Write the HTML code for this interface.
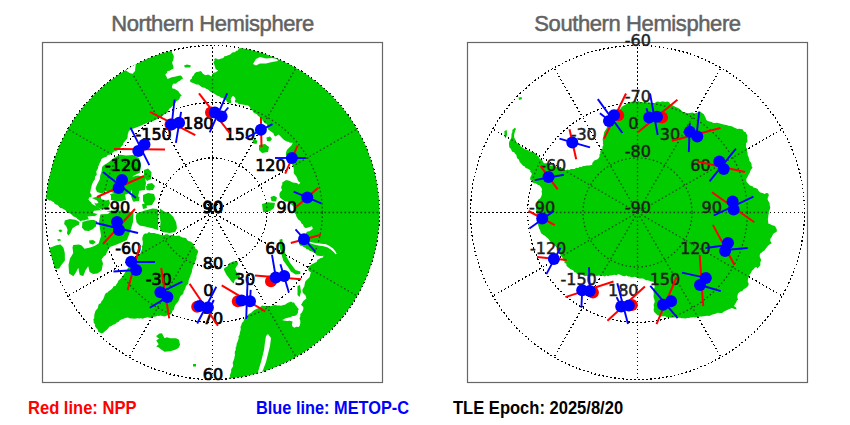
<!DOCTYPE html>
<html><head><meta charset="utf-8"><style>
html,body{margin:0;padding:0;background:#fff;}
body{width:850px;height:425px;overflow:hidden;position:relative;}
svg{position:absolute;left:0;top:0;}
</style></head><body>
<svg width="850" height="425" viewBox="0 0 850 425" xmlns="http://www.w3.org/2000/svg">
<defs>
<clipPath id="cn"><circle cx="212.5" cy="212.5" r="167.01"/></clipPath>
<clipPath id="cs"><circle cx="637.5" cy="212.5" r="167.01"/></clipPath>
<clipPath id="ln"><polygon points="20.0,197.0 20.0,20.0 172.0,20.0 172.5,21.7 171.6,23.3 171.7,25.0 172.4,26.6 172.1,28.3 172.2,30.0 171.9,31.6 171.8,33.3 172.7,34.9 172.9,36.6 171.7,38.3 172.3,39.9 171.9,41.6 173.0,43.2 172.4,44.9 172.0,46.6 172.7,48.2 171.7,49.9 171.8,51.5 172.4,53.2 173.4,55.0 173.8,57.0 173.5,59.1 173.1,60.7 172.2,62.1 172.4,63.8 172.9,65.3 173.5,66.8 173.5,68.5 171.6,69.4 169.8,70.7 167.6,70.9 166.8,72.9 165.3,74.4 166.1,75.9 166.8,77.5 167.6,79.1 169.3,78.2 171.0,77.6 172.8,77.0 174.7,76.8 176.7,76.3 178.6,75.7 180.6,75.6 182.3,77.0 182.9,79.1 181.2,79.6 180.0,80.8 178.4,81.6 177.1,82.6 175.7,83.8 173.7,83.6 172.4,85.0 171.9,86.8 172.4,88.5 174.5,88.8 176.4,89.9 178.2,90.9 179.2,92.7 180.4,94.2 181.8,95.6 180.1,96.8 179.5,98.8 178.2,100.3 176.7,101.1 175.7,102.5 174.7,103.8 173.7,105.2 172.3,106.1 171.2,107.4 169.6,108.6 168.4,110.2 167.6,112.1 166.0,113.3 164.4,114.3 162.9,115.6 161.8,117.0 160.2,117.7 158.3,117.9 157.1,119.1 155.2,120.0 153.3,121.1 151.2,121.5 149.2,122.2 147.2,122.8 145.3,123.8 143.2,124.4 141.4,125.6 139.4,126.2 137.5,127.0 135.5,127.7 133.5,128.5 131.8,129.0 130.4,130.1 128.8,130.9 128.4,132.8 127.7,134.5 127.7,136.6 127.2,138.4 126.0,140.0 124.7,141.5 123.4,143.0 122.9,145.0 121.6,146.2 120.6,147.6 119.6,149.1 118.0,150.0 116.3,151.0 114.3,151.3 112.8,152.6 111.3,153.8 109.7,154.8 107.8,155.1 106.5,156.7 104.7,157.2 103.0,158.0 101.3,159.3 100.6,161.4 99.7,163.0 99.1,164.8 98.2,166.4 98.1,168.1 97.3,169.7 96.3,171.2 96.5,173.0 96.8,174.8 95.3,176.2 94.9,177.8 94.9,179.5 93.6,180.9 92.9,182.6 92.0,184.3 91.6,186.1 91.2,187.7 90.7,189.4 90.5,191.1 90.0,192.7 91.4,194.5 91.6,196.8 89.6,197.6 88.3,199.3 89.5,200.9 91.1,202.2 92.0,204.0 93.5,204.8 95.0,205.5 96.6,206.1 98.0,207.0 99.3,208.0 100.3,209.4 101.5,210.6 99.9,211.9 98.6,213.5 97.1,214.3 95.8,215.4 94.4,216.3 92.6,217.9 90.2,218.4 88.2,219.5 85.9,219.8 84.2,220.6 82.4,220.5 80.3,221.2 79.0,220.1 77.5,219.1 76.3,217.7 74.9,216.9 73.2,216.3 71.8,214.8 70.2,213.6 68.3,212.8 66.5,211.9 65.3,210.0 63.4,209.2 62.1,208.2 60.2,208.0 59.1,206.7 57.7,205.0 56.0,204.6 54.6,203.7 53.9,201.9 52.1,201.6 51.0,200.4 49.2,200.5 47.7,199.3 46.0,199.0 44.4,199.0 42.7,199.2 41.1,198.9 39.6,198.2 37.9,198.5 36.4,198.1 34.8,197.3 33.2,197.5 31.6,197.4 30.0,197.0 28.3,197.0 26.7,197.7 25.0,197.2 23.3,197.1 21.7,197.4"/>
<polygon points="184.0,65.5 187.0,64.5 191.0,65.5 190.0,67.5 185.0,67.5"/>
<polygon points="190.0,81.5 190.2,79.8 191.8,78.7 192.0,77.0 193.7,75.3 194.7,73.2 196.5,72.1 198.6,71.7 200.6,70.9 201.8,72.0 202.7,73.4 204.0,74.4 205.9,75.2 208.1,74.6 210.0,75.6 212.0,76.5 212.0,74.6 213.2,73.0 215.7,72.2 218.2,70.5 215.7,69.3 214.9,66.4 214.1,63.9 213.4,62.3 214.6,60.6 214.1,59.0 215.7,58.2 218.2,59.4 219.8,58.9 221.5,58.6 223.3,58.1 224.4,56.3 226.4,56.1 228.0,55.2 229.8,54.7 231.3,53.6 232.8,52.3 234.9,52.3 236.3,50.8 238.0,50.4 238.7,48.6 240.4,48.3 240.3,46.4 241.5,45.0 242.5,43.5 242.3,41.6 243.0,40.0 242.6,38.3 242.9,36.7 242.3,35.0 242.6,33.3 242.9,31.7 243.0,30.0 242.6,28.3 242.6,26.7 242.6,25.0 242.9,23.3 242.7,21.7 243.0,20.0 420.0,20.0 420.0,420.0 229.0,420.0 229.0,380.0 229.0,380.0 228.7,378.2 230.1,376.8 230.0,375.0 230.6,373.3 231.2,371.6 231.1,369.6 232.0,368.0 233.0,366.6 233.2,364.9 232.6,363.1 233.2,361.5 233.8,360.0 234.3,358.4 234.5,356.7 235.1,355.1 234.7,353.4 234.9,351.5 235.8,349.7 235.6,347.8 236.5,345.9 236.6,343.8 237.5,342.0 238.0,340.2 238.7,338.4 238.5,336.5 239.6,334.8 239.8,332.7 240.4,330.8 240.8,329.0 240.4,327.0 241.3,325.2 241.9,323.1 243.5,321.6 244.1,319.5 245.2,318.0 246.1,316.4 247.7,315.3 248.8,313.9 250.4,313.2 251.8,312.2 253.0,310.9 254.5,310.1 256.3,309.1 258.2,308.2 260.1,307.3 262.0,305.5 263.9,306.1 265.8,305.9 267.8,306.0 269.7,306.3 271.6,306.1 273.4,305.2 275.3,305.1 277.3,305.5 279.3,305.6 281.2,305.8 283.1,305.1 285.0,304.8 286.4,303.8 287.8,302.7 289.5,302.3 291.0,301.5 292.4,302.6 294.2,302.5 295.0,304.6 296.5,306.3 297.6,307.8 298.8,309.3 297.9,310.7 298.0,312.4 297.2,314.2 295.7,315.5 294.2,316.0 292.4,315.9 291.1,317.0 289.0,317.4 287.0,318.1 285.0,318.5 283.6,319.6 281.9,320.1 285.0,320.8 287.3,320.9 289.6,320.8 292.6,321.6 291.9,324.7 292.5,326.6 294.2,327.7 296.4,326.7 298.8,327.0 299.9,325.2 300.3,323.1 300.3,320.7 299.5,318.5 300.4,316.3 300.3,314.0 301.7,312.7 302.6,310.9 303.4,309.0 303.3,307.0 301.0,304.8 302.2,302.9 303.3,300.9 304.9,299.8 306.4,298.6 305.6,295.6 304.0,294.1 302.6,292.5 302.3,290.1 303.3,287.9 304.3,286.5 304.5,284.9 304.9,283.3 305.3,281.6 306.4,280.3 308.0,278.8 309.5,277.2 310.0,275.7 310.3,274.1 311.0,272.6 309.3,271.2 308.0,269.5 308.6,267.9 309.0,266.2 310.6,265.2 312.0,264.0 313.6,263.5 315.1,262.6 316.7,262.0 317.3,260.1 319.0,259.0 320.7,258.0 322.6,257.8 323.7,255.5 322.0,256.2 320.2,256.1 318.5,255.7 316.7,255.5 315.9,253.9 314.3,253.1 312.9,252.0 311.3,251.2 309.6,250.8 308.4,249.5 306.5,249.3 305.5,247.8 303.8,247.3 302.3,245.9 300.2,245.4 299.0,243.7 299.0,241.9 299.7,240.3 301.0,239.0 302.6,237.9 303.4,236.1 305.0,235.0 306.2,232.8 307.6,231.5 309.5,231.2 311.3,230.1 312.8,228.7 312.0,226.2 309.5,227.0 307.5,227.7 305.4,227.9 303.7,226.6 303.0,224.6 301.5,223.5 300.8,221.8 299.7,220.5 298.2,219.4 297.3,218.0 296.4,216.4 295.8,214.6 294.7,213.0 294.0,210.8 293.5,208.5 293.1,206.1 291.5,204.8 290.2,203.2 288.8,202.3 287.4,201.4 285.4,201.5 283.7,200.4 281.7,199.1 279.9,197.6 279.5,195.7 279.4,193.8 280.5,191.7 282.2,190.1 281.2,188.3 281.3,186.3 282.3,184.5 282.2,182.5 283.9,181.4 285.5,180.2 287.7,180.2 289.7,181.0 291.3,181.7 292.8,182.6 294.6,182.7 296.9,182.9 298.7,184.4 300.4,182.7 298.7,181.5 297.7,179.7 297.0,177.8 296.0,176.0 294.6,174.5 293.7,173.0 293.8,171.2 293.8,169.5 293.5,167.8 293.0,166.2 292.1,164.1 291.0,162.0 289.7,160.2 289.0,158.0 287.9,155.9 285.9,154.8 286.2,152.0 286.9,149.9 288.3,148.5 289.8,147.1 291.9,144.9 292.6,142.8 289.8,142.8 288.5,141.7 286.9,141.4 284.1,140.0 282.0,137.9 279.9,135.8 278.5,134.4 277.0,135.4 275.6,136.5 274.2,135.4 273.6,133.6 272.4,132.4 270.9,131.6 269.6,130.4 268.1,129.5 267.4,127.7 267.3,125.7 266.7,123.9 264.9,123.2 263.7,121.8 262.5,120.4 262.0,118.6 260.4,117.5 258.2,116.1 256.8,114.3 254.7,113.3 253.3,112.3 252.7,110.6 251.2,109.8 250.3,108.5 249.8,106.9 248.1,105.6 246.1,105.2 244.1,104.8 242.4,104.5 240.6,104.3 238.8,104.2 237.4,102.6 235.6,102.7 234.8,101.0 235.6,99.2 235.0,97.5 233.0,95.8 231.5,97.5 230.7,99.3 231.1,101.2 231.0,103.0 228.9,102.9 227.0,102.0 226.1,100.3 224.5,99.4 223.0,98.0 221.0,97.7 219.6,96.6 218.0,96.0 216.3,94.9 214.6,94.0 213.0,92.8 211.5,92.2 210.0,91.5 208.8,90.3 207.6,89.3 206.0,88.7 204.7,87.8 202.9,87.4 201.2,86.7 199.8,85.4 198.2,84.6 196.4,84.5 194.8,83.7 193.2,83.0 191.5,82.5 190.0,81.5"/>
<polygon points="143.2,234.9 144.9,233.5 147.2,233.4 148.9,232.0 150.7,232.9 152.6,233.0 154.5,233.0 156.4,233.8 158.3,234.1 160.1,234.7 162.0,234.9 163.9,235.3 165.8,234.3 167.7,234.2 169.6,235.4 171.5,234.9 173.3,235.1 175.1,235.9 177.0,235.8 179.1,235.6 180.8,236.7 182.6,237.5 184.6,237.7 186.2,238.3 187.1,240.1 188.6,241.0 190.3,241.5 192.0,242.4 193.2,243.8 193.8,245.7 195.0,247.0 195.5,248.7 197.1,249.6 198.0,251.0 197.9,252.8 197.1,254.4 196.5,256.0 196.6,258.2 195.9,260.1 195.0,262.0 194.4,263.7 193.7,265.3 193.0,267.0 192.1,270.0 191.9,271.7 191.4,273.4 190.5,274.9 190.3,276.7 189.4,278.3 188.8,279.9 188.5,281.6 188.4,283.4 187.2,284.8 185.9,286.3 185.5,288.1 184.7,289.8 183.7,291.3 183.5,293.3 182.3,294.7 180.6,296.0 179.7,297.8 179.0,299.7 178.3,301.6 177.0,303.1 175.7,304.6 174.8,306.1 174.3,307.8 174.0,309.5 172.4,310.8 171.9,312.9 170.7,314.5 168.9,314.6 167.4,315.3 165.8,316.1 164.2,316.4 162.5,316.0 160.8,315.6 159.2,316.1 157.5,315.8 155.9,316.5 154.2,316.7 152.6,317.0 151.0,317.8 149.3,317.8 147.6,317.2 146.0,317.8 144.4,318.1 142.8,318.7 141.0,318.3 139.4,318.6 137.8,318.3 136.1,318.4 134.5,318.8 132.8,318.6 131.1,318.5 129.5,318.2 127.9,317.6 126.2,317.8 124.6,318.3 123.0,319.0 121.3,319.4 119.7,320.5 118.4,322.1 116.4,322.7 115.1,324.3 112.9,324.7 111.4,326.0 109.3,326.8 108.0,328.6 106.5,330.1 104.9,331.3 103.4,332.7 101.5,333.4 99.9,332.6 98.2,331.8 98.0,330.0 96.9,328.7 95.8,327.4 94.9,326.0 95.0,324.2 93.7,322.8 93.7,321.0 93.3,319.4 94.3,317.9 94.2,316.1 94.4,314.4 94.9,312.8 95.4,311.0 96.6,309.5 97.9,308.1 98.2,306.2 98.7,304.2 100.7,303.2 101.5,301.3 102.7,299.9 103.6,298.2 104.3,296.5 104.8,294.7 106.0,293.0 107.6,292.4 108.8,291.1 110.2,290.2 111.5,289.2 112.7,287.9 113.5,286.3 115.5,285.9 116.4,284.3 117.6,282.7 118.3,280.8 119.7,279.4 121.4,277.7 123.0,276.0 123.8,274.6 124.5,273.2 125.3,271.8 126.4,270.6 127.3,269.3 128.0,267.8 129.3,266.7 130.4,265.3 131.2,263.7 132.9,262.9 133.1,261.1 133.5,259.5 134.5,258.0 136.2,257.3 137.8,256.3 139.3,254.9 140.3,253.3 141.1,251.4 141.8,249.8 142.1,248.2 141.6,246.4 142.7,244.9 142.8,243.2 142.8,241.5 142.3,239.6 142.3,237.8 143.0,236.0"/>
<polygon points="156.2,336.1 159.5,333.6 162.0,333.2 163.2,335.7 164.5,338.2 166.9,337.3 170.2,338.2 176.0,338.2 178.9,339.8 180.1,344.8 178.5,348.0 175.2,349.7 170.2,351.3 164.5,351.7 161.6,349.7 158.7,347.6 156.2,346.4 158.7,344.3 156.2,340.6 159.1,338.6 157.0,337.3"/>
<polygon points="193.0,364.0 196.0,364.0 196.0,366.5 193.0,366.5"/>
<polygon points="160.0,208.5 164.0,211.4 169.6,213.2 173.4,217.0 176.2,222.6 177.0,228.3 175.2,232.0 169.6,233.0 162.0,232.0 160.0,229.0 160.5,222.0 159.5,214.0"/>
<polygon points="136.6,213.2 145.0,210.4 152.6,208.5 157.5,209.0 158.5,215.0 158.0,224.0 158.3,230.2 152.6,228.3 148.9,227.4 145.0,226.4 139.5,225.5 136.6,222.6 135.7,217.0"/>
<polygon points="143.0,195.0 148.0,193.0 154.0,194.0 155.5,199.0 152.0,205.0 146.0,205.7 143.0,201.0"/>
<polygon points="146.0,186.0 151.0,185.0 153.6,188.0 150.0,190.6 146.5,190.0"/>
<polygon points="132.0,188.0 136.0,186.0 139.5,190.0 138.0,197.0 134.0,202.0 132.0,196.0"/>
<polygon points="64.8,220.5 69.7,219.1 75.4,219.8 79.6,221.9 78.9,224.8 75.4,226.2 72.5,228.3 70.4,233.2 68.3,235.4 66.9,233.2 67.6,229.7 66.2,226.2 64.1,224.1"/>
<polygon points="82.4,221.9 87.4,220.5 93.0,219.8 97.2,221.2 95.8,226.2 93.0,229.0 88.8,231.1 84.5,230.4 82.0,227.6"/>
<polygon points="58.4,230.0 61.0,229.5 62.6,231.0 60.0,232.5"/>
<polygon points="57.0,239.5 60.0,238.9 61.2,240.5 58.0,241.0"/>
<polygon points="89.0,240.5 93.0,240.0 95.8,242.0 93.0,244.5 89.5,243.5"/>
<polygon points="50.6,247.4 56.3,245.2 60.5,244.5 63.4,247.4 64.8,253.0 64.9,260.6 61.4,264.9 59.2,268.4 55.0,269.1 45.0,268.0 45.0,250.0"/>
<polygon points="101.5,212.0 112.0,210.5 120.0,210.5 128.0,211.0 133.5,213.0 133.0,222.0 130.0,232.0 127.0,240.0 118.0,244.0 110.0,247.0 107.0,252.0 105.8,255.0 103.7,256.4 101.6,259.2 103.0,263.5 101.6,270.5 97.4,273.4 93.1,274.1 89.6,272.0 88.2,266.3 85.4,270.5 83.2,276.2 79.7,274.8 78.3,267.7 76.2,272.0 73.4,276.2 69.1,273.4 68.5,265.0 70.0,258.6 73.2,253.0 72.5,247.4 73.2,245.0 78.9,244.5 81.7,245.5 84.5,248.8 90.2,247.4 94.4,246.0 98.6,243.5 101.0,236.0 100.0,229.0 99.0,222.0 100.0,216.0"/>
<polygon points="120.5,154.7 116.2,156.6 112.5,158.9 108.7,162.2 104.0,165.0 102.1,167.0 101.6,171.6 100.2,175.4 99.8,179.2 98.4,182.0 96.9,184.8 95.5,188.6 97.0,192.0 102.0,193.5 106.0,191.0 111.0,192.0 118.0,194.5 126.0,194.5 131.0,192.5 133.0,186.0 131.0,181.0 133.0,176.0 140.0,172.5 141.0,165.0 139.0,158.0 133.0,155.0 126.0,155.5"/>
<polygon points="131.0,177.0 138.0,175.5 145.0,177.0 146.0,183.0 145.0,190.0 138.0,191.0 132.0,188.0 130.0,182.0"/>
<polygon points="144.0,170.0 148.0,168.5 151.5,172.0 151.0,179.0 147.0,181.0 144.0,177.0"/>
<polygon points="147.0,184.0 152.0,183.0 155.0,186.0 153.0,190.0 148.0,190.0"/>
<polygon points="110.0,194.0 117.0,192.5 125.0,194.0 126.0,200.0 119.0,201.5 111.0,200.0"/>
<polygon points="131.0,196.0 136.0,195.5 139.5,197.0 139.0,201.0 133.0,201.5"/>
<polygon points="142.0,204.0 146.0,203.5 147.0,208.0 143.0,209.0"/>
<polygon points="229.1,263.2 233.8,261.3 237.6,261.8 238.1,264.1 236.2,266.9 235.2,268.8 236.6,272.1 239.5,274.5 240.0,277.3 237.6,278.2 234.8,280.1 233.8,283.4 231.9,282.0 229.1,278.2 226.3,274.5 223.9,269.8 224.4,267.9 227.2,266.5"/>
<polygon points="279.5,239.8 282.3,238.8 283.2,246.4 286.0,255.8 289.8,262.4 295.5,270.0 300.3,271.5 300.3,273.9 295.6,274.5 290.9,271.5 288.0,267.0 283.2,260.5 281.4,253.9 279.5,246.4"/>
<polygon points="259.0,145.0 265.0,144.0 269.0,147.0 268.0,152.0 262.0,153.0 259.0,150.0"/>
<polygon points="266.5,137.5 270.0,136.5 272.0,139.0 270.0,141.5 267.0,141.0"/>
<polygon points="92.0,198.0 100.0,196.0 108.0,198.0 110.0,203.0 108.0,208.0 102.0,210.0 96.0,206.0"/>
<polygon points="270.5,197.0 274.0,195.7 277.0,197.5 276.0,201.4 271.5,201.0"/>
<polygon points="262.0,204.0 268.0,202.3 275.0,203.0 274.0,208.0 270.0,211.0 263.0,212.2"/>
<polygon points="297.5,286.0 300.0,285.0 301.0,292.0 299.5,297.0 297.5,295.0"/>
<polygon points="252.5,140.5 255.0,139.0 257.4,141.0 256.5,144.0 253.5,143.5"/></clipPath>
<clipPath id="ls"><polygon points="637.0,101.5 638.7,101.1 640.4,102.3 642.1,101.9 643.9,102.5 645.9,102.0 647.7,102.5 649.6,102.6 651.5,102.9 653.2,102.9 654.9,102.9 656.5,101.7 658.1,101.4 660.0,102.3 661.6,101.6 663.5,101.5 665.4,102.0 667.3,101.6 669.2,102.3 670.1,104.0 672.0,104.9 673.9,105.9 675.6,107.1 677.6,107.8 679.7,108.9 681.4,110.6 683.0,112.1 685.2,112.5 687.5,113.3 689.9,112.9 692.3,112.5 694.6,113.4 697.4,112.5 700.0,111.5 702.0,113.0 703.9,114.2 704.8,116.3 705.7,117.9 706.2,119.8 707.7,121.0 709.6,121.5 711.6,121.9 713.3,122.9 715.2,123.0 717.1,122.7 719.0,123.2 720.8,123.8 722.7,124.2 724.6,124.7 726.6,124.9 728.4,125.7 730.4,126.0 732.3,126.6 734.0,127.6 735.8,128.2 737.5,129.0 739.2,128.8 740.9,129.1 742.8,129.5 743.8,131.4 745.6,132.0 746.4,133.8 747.4,135.6 747.2,137.9 747.4,140.3 747.4,142.0 745.9,143.3 746.2,145.0 745.9,147.0 747.1,148.9 746.8,150.9 747.6,152.8 747.6,154.9 748.5,156.8 749.0,158.8 749.5,160.9 750.9,162.6 751.6,164.3 751.6,166.2 752.6,167.8 751.4,169.1 750.5,170.6 749.7,172.9 748.4,174.9 747.6,176.7 746.5,178.4 746.3,180.5 746.8,182.2 748.2,183.4 749.1,184.8 750.5,185.8 752.3,186.1 753.4,187.6 755.6,188.0 757.6,189.0 758.7,191.0 760.4,192.5 762.5,193.1 764.6,193.9 766.3,193.1 768.2,193.2 768.9,195.4 768.1,197.1 767.5,198.9 768.3,201.1 769.6,203.1 769.7,205.3 770.3,207.4 769.8,209.6 768.9,211.6 768.8,213.5 768.4,215.3 768.2,217.2 767.8,219.3 768.2,221.4 768.2,223.5 769.9,224.1 771.5,224.9 773.1,225.6 774.9,226.1 775.9,227.7 776.9,229.7 776.6,231.9 774.7,232.8 773.1,234.1 771.7,236.9 770.3,239.0 770.4,241.3 771.7,243.2 769.9,244.2 768.2,245.4 766.9,247.2 765.4,248.9 764.5,250.4 763.0,251.2 761.8,252.4 760.2,253.4 759.7,255.2 759.8,257.0 760.6,258.5 761.1,260.2 760.3,262.2 760.4,264.4 759.8,266.0 758.5,267.2 757.6,268.6 756.5,267.1 754.7,267.8 753.6,269.3 752.2,270.6 751.3,272.1 750.6,273.6 749.4,274.9 748.6,277.0 748.0,279.1 747.7,281.4 748.7,283.4 748.3,285.8 746.6,287.6 744.9,288.5 743.5,289.6 742.4,291.1 740.0,291.7 738.1,293.2 737.4,296.1 737.4,297.9 738.1,299.6 736.8,300.8 736.2,302.4 735.3,303.8 733.9,305.9 736.0,307.4 736.7,309.5 733.9,308.8 731.8,308.1 730.0,308.7 728.2,309.5 726.1,310.6 724.0,311.6 722.1,312.9 719.8,313.0 717.6,312.8 715.5,313.7 713.4,314.3 711.3,315.1 709.3,315.9 707.1,315.8 705.3,316.0 703.6,316.2 701.8,316.5 700.0,316.5 697.0,317.0 695.4,317.4 693.8,317.3 692.2,317.4 690.6,317.6 689.0,318.0 687.2,318.0 685.4,318.6 683.6,318.3 681.8,318.3 680.0,317.8 678.1,317.7 676.2,317.3 674.3,317.4 672.4,317.4 670.5,317.8 668.8,317.0 666.9,317.4 665.3,316.3 663.5,316.2 661.6,316.6 660.0,315.7 657.6,315.3 655.7,313.6 654.0,311.7 653.6,309.3 654.2,307.6 653.7,305.9 653.7,304.1 654.6,302.5 654.6,300.8 654.2,299.1 653.6,297.5 653.5,295.8 653.8,294.1 653.6,292.4 653.4,290.7 653.8,289.2 654.6,287.6 654.6,286.0 654.0,283.9 653.6,281.8 651.4,281.5 649.3,280.7 647.7,280.2 645.9,280.3 644.5,279.3 643.0,278.6 641.4,278.4 639.7,278.5 638.1,278.3 636.6,277.5 635.0,276.7 633.2,277.1 631.5,277.3 629.8,276.6 628.1,276.5 626.5,275.6 624.6,276.3 622.9,275.9 621.3,275.3 619.7,274.4 618.0,274.3 616.4,275.3 614.6,274.7 612.9,275.0 611.2,275.4 609.6,275.6 608.1,276.3 606.3,275.6 604.8,276.5 602.8,275.7 600.6,275.7 598.5,275.4 596.8,276.0 595.1,275.6 593.4,276.2 591.7,276.2 590.0,276.5 588.3,276.4 586.8,275.7 585.0,276.2 583.4,275.5 582.0,274.3 580.3,274.1 578.6,274.6 577.0,274.0 576.0,272.6 574.2,272.2 573.4,270.5 571.9,269.7 570.3,269.1 569.0,268.0 567.7,266.9 566.4,265.7 566.4,263.7 564.5,263.1 564.4,261.1 563.0,260.0 562.8,258.1 561.6,256.6 560.3,255.2 560.4,253.1 559.8,251.4 558.4,250.0 557.7,248.4 556.5,247.2 555.2,245.9 553.8,244.8 552.7,243.4 551.3,242.3 549.9,241.2 548.9,239.6 547.8,238.2 546.4,237.2 545.2,235.9 543.4,235.0 541.7,233.8 540.5,232.1 540.1,230.2 539.0,228.5 538.6,226.5 538.0,224.6 537.1,222.8 536.7,220.8 537.5,219.0 537.9,217.2 537.6,215.2 536.5,213.5 536.4,211.7 536.2,209.9 536.0,208.0 537.1,206.4 537.2,204.6 537.0,202.8 537.6,201.1 538.4,199.5 540.1,198.5 541.0,197.0 541.7,195.3 542.1,193.6 541.5,191.7 542.0,190.0 541.7,188.3 540.7,186.9 539.7,185.6 537.7,184.8 536.0,183.4 533.8,183.2 532.4,182.3 531.7,180.6 530.3,179.7 530.1,178.0 530.7,176.5 531.5,175.0 531.7,173.3 530.3,172.0 530.3,170.3 528.9,169.2 527.2,168.6 525.6,167.9 524.8,166.4 523.1,165.7 521.9,164.5 520.9,163.2 519.5,161.8 519.0,159.8 517.4,158.5 516.7,156.9 516.4,155.1 515.0,153.8 514.2,152.2 512.3,151.8 511.5,150.3 510.8,148.7 509.4,147.4 509.1,145.6 508.9,143.5 509.3,141.5 510.3,139.7 511.2,137.9 511.5,136.0 511.5,134.0 512.4,132.1 512.3,130.0 514.3,128.3 514.9,129.9 515.0,131.5 514.3,133.7 514.0,136.0 514.4,138.1 515.6,139.9 516.2,142.0 517.3,143.3 518.8,144.1 520.1,145.2 520.9,146.8 522.8,147.4 524.2,149.0 526.2,149.5 528.0,150.3 529.7,151.6 531.9,151.8 533.8,152.6 535.6,153.6 536.7,155.3 538.5,156.2 539.3,158.2 540.9,159.7 542.5,160.4 543.1,162.2 544.4,163.2 546.4,163.3 548.1,163.9 549.6,165.5 551.5,165.6 553.4,165.3 555.1,165.8 556.6,167.2 558.5,166.8 560.3,167.6 562.3,168.1 564.0,169.0 565.6,170.3 567.3,169.6 569.2,170.0 570.8,168.9 572.6,169.1 574.6,169.1 576.1,167.8 578.2,168.0 579.8,166.8 581.6,167.1 583.1,166.0 584.8,166.0 586.8,165.5 588.9,165.6 590.5,165.2 592.2,164.8 592.3,163.0 593.4,161.5 594.7,160.2 596.4,159.8 598.0,159.0 599.6,156.5 599.4,154.7 600.4,153.2 600.1,151.4 601.2,149.9 602.5,148.5 602.5,146.6 603.3,145.0 602.8,143.2 603.0,141.4 602.6,139.6 603.0,137.7 603.5,135.8 603.9,133.8 604.2,131.9 605.4,130.2 606.5,128.6 607.1,126.9 607.0,125.0 608.6,123.7 608.5,121.4 610.0,120.0 610.9,118.2 612.6,117.1 614.3,115.9 615.0,114.0 616.4,112.7 617.9,111.4 619.3,110.0 620.5,108.5 621.7,106.9 623.3,105.7 625.2,104.8 627.0,103.6 629.0,102.9 630.8,102.1 632.6,101.4 634.6,101.5"/>
<polygon points="504.4,131.0 506.8,130.0 507.0,135.0 505.5,138.5 504.5,136.0"/>
<polygon points="514.0,128.0 516.0,128.5 515.5,130.5 514.0,130.0"/>
<polygon points="518.5,97.5 521.5,97.0 522.0,99.0 519.0,100.0"/></clipPath>
</defs>
<g fill="none" stroke="#000" stroke-width="1.25" stroke-dasharray="1.7 2.3" shape-rendering="crispEdges"><circle cx="212.5" cy="212.5" r="167.01"/><circle cx="212.5" cy="212.5" r="109.90"/><circle cx="212.5" cy="212.5" r="54.53"/><line x1="212.5" y1="212.5" x2="212.50" y2="379.51"/><line x1="212.5" y1="212.5" x2="296.01" y2="357.14"/><line x1="212.5" y1="212.5" x2="357.14" y2="296.01"/><line x1="212.5" y1="212.5" x2="379.51" y2="212.50"/><line x1="212.5" y1="212.5" x2="357.14" y2="128.99"/><line x1="212.5" y1="212.5" x2="296.01" y2="67.86"/><line x1="212.5" y1="212.5" x2="212.50" y2="45.49"/><line x1="212.5" y1="212.5" x2="128.99" y2="67.86"/><line x1="212.5" y1="212.5" x2="67.86" y2="128.99"/><line x1="212.5" y1="212.5" x2="45.49" y2="212.50"/><line x1="212.5" y1="212.5" x2="67.86" y2="296.01"/><line x1="212.5" y1="212.5" x2="128.99" y2="357.14"/><circle cx="637.5" cy="212.5" r="167.01"/><circle cx="637.5" cy="212.5" r="109.90"/><circle cx="637.5" cy="212.5" r="54.53"/><line x1="637.5" y1="212.5" x2="637.50" y2="45.49"/><line x1="637.5" y1="212.5" x2="721.01" y2="67.86"/><line x1="637.5" y1="212.5" x2="782.14" y2="128.99"/><line x1="637.5" y1="212.5" x2="804.51" y2="212.50"/><line x1="637.5" y1="212.5" x2="782.14" y2="296.01"/><line x1="637.5" y1="212.5" x2="721.01" y2="357.14"/><line x1="637.5" y1="212.5" x2="637.50" y2="379.51"/><line x1="637.5" y1="212.5" x2="553.99" y2="357.14"/><line x1="637.5" y1="212.5" x2="492.86" y2="296.01"/><line x1="637.5" y1="212.5" x2="470.49" y2="212.50"/><line x1="637.5" y1="212.5" x2="492.86" y2="128.99"/><line x1="637.5" y1="212.5" x2="553.99" y2="67.86"/></g>
<g clip-path="url(#cn)" fill="#00cc00"><polygon points="20.0,197.0 20.0,20.0 172.0,20.0 172.5,21.7 171.6,23.3 171.7,25.0 172.4,26.6 172.1,28.3 172.2,30.0 171.9,31.6 171.8,33.3 172.7,34.9 172.9,36.6 171.7,38.3 172.3,39.9 171.9,41.6 173.0,43.2 172.4,44.9 172.0,46.6 172.7,48.2 171.7,49.9 171.8,51.5 172.4,53.2 173.4,55.0 173.8,57.0 173.5,59.1 173.1,60.7 172.2,62.1 172.4,63.8 172.9,65.3 173.5,66.8 173.5,68.5 171.6,69.4 169.8,70.7 167.6,70.9 166.8,72.9 165.3,74.4 166.1,75.9 166.8,77.5 167.6,79.1 169.3,78.2 171.0,77.6 172.8,77.0 174.7,76.8 176.7,76.3 178.6,75.7 180.6,75.6 182.3,77.0 182.9,79.1 181.2,79.6 180.0,80.8 178.4,81.6 177.1,82.6 175.7,83.8 173.7,83.6 172.4,85.0 171.9,86.8 172.4,88.5 174.5,88.8 176.4,89.9 178.2,90.9 179.2,92.7 180.4,94.2 181.8,95.6 180.1,96.8 179.5,98.8 178.2,100.3 176.7,101.1 175.7,102.5 174.7,103.8 173.7,105.2 172.3,106.1 171.2,107.4 169.6,108.6 168.4,110.2 167.6,112.1 166.0,113.3 164.4,114.3 162.9,115.6 161.8,117.0 160.2,117.7 158.3,117.9 157.1,119.1 155.2,120.0 153.3,121.1 151.2,121.5 149.2,122.2 147.2,122.8 145.3,123.8 143.2,124.4 141.4,125.6 139.4,126.2 137.5,127.0 135.5,127.7 133.5,128.5 131.8,129.0 130.4,130.1 128.8,130.9 128.4,132.8 127.7,134.5 127.7,136.6 127.2,138.4 126.0,140.0 124.7,141.5 123.4,143.0 122.9,145.0 121.6,146.2 120.6,147.6 119.6,149.1 118.0,150.0 116.3,151.0 114.3,151.3 112.8,152.6 111.3,153.8 109.7,154.8 107.8,155.1 106.5,156.7 104.7,157.2 103.0,158.0 101.3,159.3 100.6,161.4 99.7,163.0 99.1,164.8 98.2,166.4 98.1,168.1 97.3,169.7 96.3,171.2 96.5,173.0 96.8,174.8 95.3,176.2 94.9,177.8 94.9,179.5 93.6,180.9 92.9,182.6 92.0,184.3 91.6,186.1 91.2,187.7 90.7,189.4 90.5,191.1 90.0,192.7 91.4,194.5 91.6,196.8 89.6,197.6 88.3,199.3 89.5,200.9 91.1,202.2 92.0,204.0 93.5,204.8 95.0,205.5 96.6,206.1 98.0,207.0 99.3,208.0 100.3,209.4 101.5,210.6 99.9,211.9 98.6,213.5 97.1,214.3 95.8,215.4 94.4,216.3 92.6,217.9 90.2,218.4 88.2,219.5 85.9,219.8 84.2,220.6 82.4,220.5 80.3,221.2 79.0,220.1 77.5,219.1 76.3,217.7 74.9,216.9 73.2,216.3 71.8,214.8 70.2,213.6 68.3,212.8 66.5,211.9 65.3,210.0 63.4,209.2 62.1,208.2 60.2,208.0 59.1,206.7 57.7,205.0 56.0,204.6 54.6,203.7 53.9,201.9 52.1,201.6 51.0,200.4 49.2,200.5 47.7,199.3 46.0,199.0 44.4,199.0 42.7,199.2 41.1,198.9 39.6,198.2 37.9,198.5 36.4,198.1 34.8,197.3 33.2,197.5 31.6,197.4 30.0,197.0 28.3,197.0 26.7,197.7 25.0,197.2 23.3,197.1 21.7,197.4"/>
<polygon points="184.0,65.5 187.0,64.5 191.0,65.5 190.0,67.5 185.0,67.5"/>
<polygon points="190.0,81.5 190.2,79.8 191.8,78.7 192.0,77.0 193.7,75.3 194.7,73.2 196.5,72.1 198.6,71.7 200.6,70.9 201.8,72.0 202.7,73.4 204.0,74.4 205.9,75.2 208.1,74.6 210.0,75.6 212.0,76.5 212.0,74.6 213.2,73.0 215.7,72.2 218.2,70.5 215.7,69.3 214.9,66.4 214.1,63.9 213.4,62.3 214.6,60.6 214.1,59.0 215.7,58.2 218.2,59.4 219.8,58.9 221.5,58.6 223.3,58.1 224.4,56.3 226.4,56.1 228.0,55.2 229.8,54.7 231.3,53.6 232.8,52.3 234.9,52.3 236.3,50.8 238.0,50.4 238.7,48.6 240.4,48.3 240.3,46.4 241.5,45.0 242.5,43.5 242.3,41.6 243.0,40.0 242.6,38.3 242.9,36.7 242.3,35.0 242.6,33.3 242.9,31.7 243.0,30.0 242.6,28.3 242.6,26.7 242.6,25.0 242.9,23.3 242.7,21.7 243.0,20.0 420.0,20.0 420.0,420.0 229.0,420.0 229.0,380.0 229.0,380.0 228.7,378.2 230.1,376.8 230.0,375.0 230.6,373.3 231.2,371.6 231.1,369.6 232.0,368.0 233.0,366.6 233.2,364.9 232.6,363.1 233.2,361.5 233.8,360.0 234.3,358.4 234.5,356.7 235.1,355.1 234.7,353.4 234.9,351.5 235.8,349.7 235.6,347.8 236.5,345.9 236.6,343.8 237.5,342.0 238.0,340.2 238.7,338.4 238.5,336.5 239.6,334.8 239.8,332.7 240.4,330.8 240.8,329.0 240.4,327.0 241.3,325.2 241.9,323.1 243.5,321.6 244.1,319.5 245.2,318.0 246.1,316.4 247.7,315.3 248.8,313.9 250.4,313.2 251.8,312.2 253.0,310.9 254.5,310.1 256.3,309.1 258.2,308.2 260.1,307.3 262.0,305.5 263.9,306.1 265.8,305.9 267.8,306.0 269.7,306.3 271.6,306.1 273.4,305.2 275.3,305.1 277.3,305.5 279.3,305.6 281.2,305.8 283.1,305.1 285.0,304.8 286.4,303.8 287.8,302.7 289.5,302.3 291.0,301.5 292.4,302.6 294.2,302.5 295.0,304.6 296.5,306.3 297.6,307.8 298.8,309.3 297.9,310.7 298.0,312.4 297.2,314.2 295.7,315.5 294.2,316.0 292.4,315.9 291.1,317.0 289.0,317.4 287.0,318.1 285.0,318.5 283.6,319.6 281.9,320.1 285.0,320.8 287.3,320.9 289.6,320.8 292.6,321.6 291.9,324.7 292.5,326.6 294.2,327.7 296.4,326.7 298.8,327.0 299.9,325.2 300.3,323.1 300.3,320.7 299.5,318.5 300.4,316.3 300.3,314.0 301.7,312.7 302.6,310.9 303.4,309.0 303.3,307.0 301.0,304.8 302.2,302.9 303.3,300.9 304.9,299.8 306.4,298.6 305.6,295.6 304.0,294.1 302.6,292.5 302.3,290.1 303.3,287.9 304.3,286.5 304.5,284.9 304.9,283.3 305.3,281.6 306.4,280.3 308.0,278.8 309.5,277.2 310.0,275.7 310.3,274.1 311.0,272.6 309.3,271.2 308.0,269.5 308.6,267.9 309.0,266.2 310.6,265.2 312.0,264.0 313.6,263.5 315.1,262.6 316.7,262.0 317.3,260.1 319.0,259.0 320.7,258.0 322.6,257.8 323.7,255.5 322.0,256.2 320.2,256.1 318.5,255.7 316.7,255.5 315.9,253.9 314.3,253.1 312.9,252.0 311.3,251.2 309.6,250.8 308.4,249.5 306.5,249.3 305.5,247.8 303.8,247.3 302.3,245.9 300.2,245.4 299.0,243.7 299.0,241.9 299.7,240.3 301.0,239.0 302.6,237.9 303.4,236.1 305.0,235.0 306.2,232.8 307.6,231.5 309.5,231.2 311.3,230.1 312.8,228.7 312.0,226.2 309.5,227.0 307.5,227.7 305.4,227.9 303.7,226.6 303.0,224.6 301.5,223.5 300.8,221.8 299.7,220.5 298.2,219.4 297.3,218.0 296.4,216.4 295.8,214.6 294.7,213.0 294.0,210.8 293.5,208.5 293.1,206.1 291.5,204.8 290.2,203.2 288.8,202.3 287.4,201.4 285.4,201.5 283.7,200.4 281.7,199.1 279.9,197.6 279.5,195.7 279.4,193.8 280.5,191.7 282.2,190.1 281.2,188.3 281.3,186.3 282.3,184.5 282.2,182.5 283.9,181.4 285.5,180.2 287.7,180.2 289.7,181.0 291.3,181.7 292.8,182.6 294.6,182.7 296.9,182.9 298.7,184.4 300.4,182.7 298.7,181.5 297.7,179.7 297.0,177.8 296.0,176.0 294.6,174.5 293.7,173.0 293.8,171.2 293.8,169.5 293.5,167.8 293.0,166.2 292.1,164.1 291.0,162.0 289.7,160.2 289.0,158.0 287.9,155.9 285.9,154.8 286.2,152.0 286.9,149.9 288.3,148.5 289.8,147.1 291.9,144.9 292.6,142.8 289.8,142.8 288.5,141.7 286.9,141.4 284.1,140.0 282.0,137.9 279.9,135.8 278.5,134.4 277.0,135.4 275.6,136.5 274.2,135.4 273.6,133.6 272.4,132.4 270.9,131.6 269.6,130.4 268.1,129.5 267.4,127.7 267.3,125.7 266.7,123.9 264.9,123.2 263.7,121.8 262.5,120.4 262.0,118.6 260.4,117.5 258.2,116.1 256.8,114.3 254.7,113.3 253.3,112.3 252.7,110.6 251.2,109.8 250.3,108.5 249.8,106.9 248.1,105.6 246.1,105.2 244.1,104.8 242.4,104.5 240.6,104.3 238.8,104.2 237.4,102.6 235.6,102.7 234.8,101.0 235.6,99.2 235.0,97.5 233.0,95.8 231.5,97.5 230.7,99.3 231.1,101.2 231.0,103.0 228.9,102.9 227.0,102.0 226.1,100.3 224.5,99.4 223.0,98.0 221.0,97.7 219.6,96.6 218.0,96.0 216.3,94.9 214.6,94.0 213.0,92.8 211.5,92.2 210.0,91.5 208.8,90.3 207.6,89.3 206.0,88.7 204.7,87.8 202.9,87.4 201.2,86.7 199.8,85.4 198.2,84.6 196.4,84.5 194.8,83.7 193.2,83.0 191.5,82.5 190.0,81.5"/>
<polygon points="143.2,234.9 144.9,233.5 147.2,233.4 148.9,232.0 150.7,232.9 152.6,233.0 154.5,233.0 156.4,233.8 158.3,234.1 160.1,234.7 162.0,234.9 163.9,235.3 165.8,234.3 167.7,234.2 169.6,235.4 171.5,234.9 173.3,235.1 175.1,235.9 177.0,235.8 179.1,235.6 180.8,236.7 182.6,237.5 184.6,237.7 186.2,238.3 187.1,240.1 188.6,241.0 190.3,241.5 192.0,242.4 193.2,243.8 193.8,245.7 195.0,247.0 195.5,248.7 197.1,249.6 198.0,251.0 197.9,252.8 197.1,254.4 196.5,256.0 196.6,258.2 195.9,260.1 195.0,262.0 194.4,263.7 193.7,265.3 193.0,267.0 192.1,270.0 191.9,271.7 191.4,273.4 190.5,274.9 190.3,276.7 189.4,278.3 188.8,279.9 188.5,281.6 188.4,283.4 187.2,284.8 185.9,286.3 185.5,288.1 184.7,289.8 183.7,291.3 183.5,293.3 182.3,294.7 180.6,296.0 179.7,297.8 179.0,299.7 178.3,301.6 177.0,303.1 175.7,304.6 174.8,306.1 174.3,307.8 174.0,309.5 172.4,310.8 171.9,312.9 170.7,314.5 168.9,314.6 167.4,315.3 165.8,316.1 164.2,316.4 162.5,316.0 160.8,315.6 159.2,316.1 157.5,315.8 155.9,316.5 154.2,316.7 152.6,317.0 151.0,317.8 149.3,317.8 147.6,317.2 146.0,317.8 144.4,318.1 142.8,318.7 141.0,318.3 139.4,318.6 137.8,318.3 136.1,318.4 134.5,318.8 132.8,318.6 131.1,318.5 129.5,318.2 127.9,317.6 126.2,317.8 124.6,318.3 123.0,319.0 121.3,319.4 119.7,320.5 118.4,322.1 116.4,322.7 115.1,324.3 112.9,324.7 111.4,326.0 109.3,326.8 108.0,328.6 106.5,330.1 104.9,331.3 103.4,332.7 101.5,333.4 99.9,332.6 98.2,331.8 98.0,330.0 96.9,328.7 95.8,327.4 94.9,326.0 95.0,324.2 93.7,322.8 93.7,321.0 93.3,319.4 94.3,317.9 94.2,316.1 94.4,314.4 94.9,312.8 95.4,311.0 96.6,309.5 97.9,308.1 98.2,306.2 98.7,304.2 100.7,303.2 101.5,301.3 102.7,299.9 103.6,298.2 104.3,296.5 104.8,294.7 106.0,293.0 107.6,292.4 108.8,291.1 110.2,290.2 111.5,289.2 112.7,287.9 113.5,286.3 115.5,285.9 116.4,284.3 117.6,282.7 118.3,280.8 119.7,279.4 121.4,277.7 123.0,276.0 123.8,274.6 124.5,273.2 125.3,271.8 126.4,270.6 127.3,269.3 128.0,267.8 129.3,266.7 130.4,265.3 131.2,263.7 132.9,262.9 133.1,261.1 133.5,259.5 134.5,258.0 136.2,257.3 137.8,256.3 139.3,254.9 140.3,253.3 141.1,251.4 141.8,249.8 142.1,248.2 141.6,246.4 142.7,244.9 142.8,243.2 142.8,241.5 142.3,239.6 142.3,237.8 143.0,236.0"/>
<polygon points="156.2,336.1 159.5,333.6 162.0,333.2 163.2,335.7 164.5,338.2 166.9,337.3 170.2,338.2 176.0,338.2 178.9,339.8 180.1,344.8 178.5,348.0 175.2,349.7 170.2,351.3 164.5,351.7 161.6,349.7 158.7,347.6 156.2,346.4 158.7,344.3 156.2,340.6 159.1,338.6 157.0,337.3"/>
<polygon points="193.0,364.0 196.0,364.0 196.0,366.5 193.0,366.5"/>
<polygon points="160.0,208.5 164.0,211.4 169.6,213.2 173.4,217.0 176.2,222.6 177.0,228.3 175.2,232.0 169.6,233.0 162.0,232.0 160.0,229.0 160.5,222.0 159.5,214.0"/>
<polygon points="136.6,213.2 145.0,210.4 152.6,208.5 157.5,209.0 158.5,215.0 158.0,224.0 158.3,230.2 152.6,228.3 148.9,227.4 145.0,226.4 139.5,225.5 136.6,222.6 135.7,217.0"/>
<polygon points="143.0,195.0 148.0,193.0 154.0,194.0 155.5,199.0 152.0,205.0 146.0,205.7 143.0,201.0"/>
<polygon points="146.0,186.0 151.0,185.0 153.6,188.0 150.0,190.6 146.5,190.0"/>
<polygon points="132.0,188.0 136.0,186.0 139.5,190.0 138.0,197.0 134.0,202.0 132.0,196.0"/>
<polygon points="64.8,220.5 69.7,219.1 75.4,219.8 79.6,221.9 78.9,224.8 75.4,226.2 72.5,228.3 70.4,233.2 68.3,235.4 66.9,233.2 67.6,229.7 66.2,226.2 64.1,224.1"/>
<polygon points="82.4,221.9 87.4,220.5 93.0,219.8 97.2,221.2 95.8,226.2 93.0,229.0 88.8,231.1 84.5,230.4 82.0,227.6"/>
<polygon points="58.4,230.0 61.0,229.5 62.6,231.0 60.0,232.5"/>
<polygon points="57.0,239.5 60.0,238.9 61.2,240.5 58.0,241.0"/>
<polygon points="89.0,240.5 93.0,240.0 95.8,242.0 93.0,244.5 89.5,243.5"/>
<polygon points="50.6,247.4 56.3,245.2 60.5,244.5 63.4,247.4 64.8,253.0 64.9,260.6 61.4,264.9 59.2,268.4 55.0,269.1 45.0,268.0 45.0,250.0"/>
<polygon points="101.5,212.0 112.0,210.5 120.0,210.5 128.0,211.0 133.5,213.0 133.0,222.0 130.0,232.0 127.0,240.0 118.0,244.0 110.0,247.0 107.0,252.0 105.8,255.0 103.7,256.4 101.6,259.2 103.0,263.5 101.6,270.5 97.4,273.4 93.1,274.1 89.6,272.0 88.2,266.3 85.4,270.5 83.2,276.2 79.7,274.8 78.3,267.7 76.2,272.0 73.4,276.2 69.1,273.4 68.5,265.0 70.0,258.6 73.2,253.0 72.5,247.4 73.2,245.0 78.9,244.5 81.7,245.5 84.5,248.8 90.2,247.4 94.4,246.0 98.6,243.5 101.0,236.0 100.0,229.0 99.0,222.0 100.0,216.0"/>
<polygon points="120.5,154.7 116.2,156.6 112.5,158.9 108.7,162.2 104.0,165.0 102.1,167.0 101.6,171.6 100.2,175.4 99.8,179.2 98.4,182.0 96.9,184.8 95.5,188.6 97.0,192.0 102.0,193.5 106.0,191.0 111.0,192.0 118.0,194.5 126.0,194.5 131.0,192.5 133.0,186.0 131.0,181.0 133.0,176.0 140.0,172.5 141.0,165.0 139.0,158.0 133.0,155.0 126.0,155.5"/>
<polygon points="131.0,177.0 138.0,175.5 145.0,177.0 146.0,183.0 145.0,190.0 138.0,191.0 132.0,188.0 130.0,182.0"/>
<polygon points="144.0,170.0 148.0,168.5 151.5,172.0 151.0,179.0 147.0,181.0 144.0,177.0"/>
<polygon points="147.0,184.0 152.0,183.0 155.0,186.0 153.0,190.0 148.0,190.0"/>
<polygon points="110.0,194.0 117.0,192.5 125.0,194.0 126.0,200.0 119.0,201.5 111.0,200.0"/>
<polygon points="131.0,196.0 136.0,195.5 139.5,197.0 139.0,201.0 133.0,201.5"/>
<polygon points="142.0,204.0 146.0,203.5 147.0,208.0 143.0,209.0"/>
<polygon points="229.1,263.2 233.8,261.3 237.6,261.8 238.1,264.1 236.2,266.9 235.2,268.8 236.6,272.1 239.5,274.5 240.0,277.3 237.6,278.2 234.8,280.1 233.8,283.4 231.9,282.0 229.1,278.2 226.3,274.5 223.9,269.8 224.4,267.9 227.2,266.5"/>
<polygon points="279.5,239.8 282.3,238.8 283.2,246.4 286.0,255.8 289.8,262.4 295.5,270.0 300.3,271.5 300.3,273.9 295.6,274.5 290.9,271.5 288.0,267.0 283.2,260.5 281.4,253.9 279.5,246.4"/>
<polygon points="259.0,145.0 265.0,144.0 269.0,147.0 268.0,152.0 262.0,153.0 259.0,150.0"/>
<polygon points="266.5,137.5 270.0,136.5 272.0,139.0 270.0,141.5 267.0,141.0"/>
<polygon points="92.0,198.0 100.0,196.0 108.0,198.0 110.0,203.0 108.0,208.0 102.0,210.0 96.0,206.0"/>
<polygon points="270.5,197.0 274.0,195.7 277.0,197.5 276.0,201.4 271.5,201.0"/>
<polygon points="262.0,204.0 268.0,202.3 275.0,203.0 274.0,208.0 270.0,211.0 263.0,212.2"/>
<polygon points="297.5,286.0 300.0,285.0 301.0,292.0 299.5,297.0 297.5,295.0"/>
<polygon points="252.5,140.5 255.0,139.0 257.4,141.0 256.5,144.0 253.5,143.5"/></g>
<g clip-path="url(#cs)" fill="#00cc00"><polygon points="637.0,101.5 638.7,101.1 640.4,102.3 642.1,101.9 643.9,102.5 645.9,102.0 647.7,102.5 649.6,102.6 651.5,102.9 653.2,102.9 654.9,102.9 656.5,101.7 658.1,101.4 660.0,102.3 661.6,101.6 663.5,101.5 665.4,102.0 667.3,101.6 669.2,102.3 670.1,104.0 672.0,104.9 673.9,105.9 675.6,107.1 677.6,107.8 679.7,108.9 681.4,110.6 683.0,112.1 685.2,112.5 687.5,113.3 689.9,112.9 692.3,112.5 694.6,113.4 697.4,112.5 700.0,111.5 702.0,113.0 703.9,114.2 704.8,116.3 705.7,117.9 706.2,119.8 707.7,121.0 709.6,121.5 711.6,121.9 713.3,122.9 715.2,123.0 717.1,122.7 719.0,123.2 720.8,123.8 722.7,124.2 724.6,124.7 726.6,124.9 728.4,125.7 730.4,126.0 732.3,126.6 734.0,127.6 735.8,128.2 737.5,129.0 739.2,128.8 740.9,129.1 742.8,129.5 743.8,131.4 745.6,132.0 746.4,133.8 747.4,135.6 747.2,137.9 747.4,140.3 747.4,142.0 745.9,143.3 746.2,145.0 745.9,147.0 747.1,148.9 746.8,150.9 747.6,152.8 747.6,154.9 748.5,156.8 749.0,158.8 749.5,160.9 750.9,162.6 751.6,164.3 751.6,166.2 752.6,167.8 751.4,169.1 750.5,170.6 749.7,172.9 748.4,174.9 747.6,176.7 746.5,178.4 746.3,180.5 746.8,182.2 748.2,183.4 749.1,184.8 750.5,185.8 752.3,186.1 753.4,187.6 755.6,188.0 757.6,189.0 758.7,191.0 760.4,192.5 762.5,193.1 764.6,193.9 766.3,193.1 768.2,193.2 768.9,195.4 768.1,197.1 767.5,198.9 768.3,201.1 769.6,203.1 769.7,205.3 770.3,207.4 769.8,209.6 768.9,211.6 768.8,213.5 768.4,215.3 768.2,217.2 767.8,219.3 768.2,221.4 768.2,223.5 769.9,224.1 771.5,224.9 773.1,225.6 774.9,226.1 775.9,227.7 776.9,229.7 776.6,231.9 774.7,232.8 773.1,234.1 771.7,236.9 770.3,239.0 770.4,241.3 771.7,243.2 769.9,244.2 768.2,245.4 766.9,247.2 765.4,248.9 764.5,250.4 763.0,251.2 761.8,252.4 760.2,253.4 759.7,255.2 759.8,257.0 760.6,258.5 761.1,260.2 760.3,262.2 760.4,264.4 759.8,266.0 758.5,267.2 757.6,268.6 756.5,267.1 754.7,267.8 753.6,269.3 752.2,270.6 751.3,272.1 750.6,273.6 749.4,274.9 748.6,277.0 748.0,279.1 747.7,281.4 748.7,283.4 748.3,285.8 746.6,287.6 744.9,288.5 743.5,289.6 742.4,291.1 740.0,291.7 738.1,293.2 737.4,296.1 737.4,297.9 738.1,299.6 736.8,300.8 736.2,302.4 735.3,303.8 733.9,305.9 736.0,307.4 736.7,309.5 733.9,308.8 731.8,308.1 730.0,308.7 728.2,309.5 726.1,310.6 724.0,311.6 722.1,312.9 719.8,313.0 717.6,312.8 715.5,313.7 713.4,314.3 711.3,315.1 709.3,315.9 707.1,315.8 705.3,316.0 703.6,316.2 701.8,316.5 700.0,316.5 697.0,317.0 695.4,317.4 693.8,317.3 692.2,317.4 690.6,317.6 689.0,318.0 687.2,318.0 685.4,318.6 683.6,318.3 681.8,318.3 680.0,317.8 678.1,317.7 676.2,317.3 674.3,317.4 672.4,317.4 670.5,317.8 668.8,317.0 666.9,317.4 665.3,316.3 663.5,316.2 661.6,316.6 660.0,315.7 657.6,315.3 655.7,313.6 654.0,311.7 653.6,309.3 654.2,307.6 653.7,305.9 653.7,304.1 654.6,302.5 654.6,300.8 654.2,299.1 653.6,297.5 653.5,295.8 653.8,294.1 653.6,292.4 653.4,290.7 653.8,289.2 654.6,287.6 654.6,286.0 654.0,283.9 653.6,281.8 651.4,281.5 649.3,280.7 647.7,280.2 645.9,280.3 644.5,279.3 643.0,278.6 641.4,278.4 639.7,278.5 638.1,278.3 636.6,277.5 635.0,276.7 633.2,277.1 631.5,277.3 629.8,276.6 628.1,276.5 626.5,275.6 624.6,276.3 622.9,275.9 621.3,275.3 619.7,274.4 618.0,274.3 616.4,275.3 614.6,274.7 612.9,275.0 611.2,275.4 609.6,275.6 608.1,276.3 606.3,275.6 604.8,276.5 602.8,275.7 600.6,275.7 598.5,275.4 596.8,276.0 595.1,275.6 593.4,276.2 591.7,276.2 590.0,276.5 588.3,276.4 586.8,275.7 585.0,276.2 583.4,275.5 582.0,274.3 580.3,274.1 578.6,274.6 577.0,274.0 576.0,272.6 574.2,272.2 573.4,270.5 571.9,269.7 570.3,269.1 569.0,268.0 567.7,266.9 566.4,265.7 566.4,263.7 564.5,263.1 564.4,261.1 563.0,260.0 562.8,258.1 561.6,256.6 560.3,255.2 560.4,253.1 559.8,251.4 558.4,250.0 557.7,248.4 556.5,247.2 555.2,245.9 553.8,244.8 552.7,243.4 551.3,242.3 549.9,241.2 548.9,239.6 547.8,238.2 546.4,237.2 545.2,235.9 543.4,235.0 541.7,233.8 540.5,232.1 540.1,230.2 539.0,228.5 538.6,226.5 538.0,224.6 537.1,222.8 536.7,220.8 537.5,219.0 537.9,217.2 537.6,215.2 536.5,213.5 536.4,211.7 536.2,209.9 536.0,208.0 537.1,206.4 537.2,204.6 537.0,202.8 537.6,201.1 538.4,199.5 540.1,198.5 541.0,197.0 541.7,195.3 542.1,193.6 541.5,191.7 542.0,190.0 541.7,188.3 540.7,186.9 539.7,185.6 537.7,184.8 536.0,183.4 533.8,183.2 532.4,182.3 531.7,180.6 530.3,179.7 530.1,178.0 530.7,176.5 531.5,175.0 531.7,173.3 530.3,172.0 530.3,170.3 528.9,169.2 527.2,168.6 525.6,167.9 524.8,166.4 523.1,165.7 521.9,164.5 520.9,163.2 519.5,161.8 519.0,159.8 517.4,158.5 516.7,156.9 516.4,155.1 515.0,153.8 514.2,152.2 512.3,151.8 511.5,150.3 510.8,148.7 509.4,147.4 509.1,145.6 508.9,143.5 509.3,141.5 510.3,139.7 511.2,137.9 511.5,136.0 511.5,134.0 512.4,132.1 512.3,130.0 514.3,128.3 514.9,129.9 515.0,131.5 514.3,133.7 514.0,136.0 514.4,138.1 515.6,139.9 516.2,142.0 517.3,143.3 518.8,144.1 520.1,145.2 520.9,146.8 522.8,147.4 524.2,149.0 526.2,149.5 528.0,150.3 529.7,151.6 531.9,151.8 533.8,152.6 535.6,153.6 536.7,155.3 538.5,156.2 539.3,158.2 540.9,159.7 542.5,160.4 543.1,162.2 544.4,163.2 546.4,163.3 548.1,163.9 549.6,165.5 551.5,165.6 553.4,165.3 555.1,165.8 556.6,167.2 558.5,166.8 560.3,167.6 562.3,168.1 564.0,169.0 565.6,170.3 567.3,169.6 569.2,170.0 570.8,168.9 572.6,169.1 574.6,169.1 576.1,167.8 578.2,168.0 579.8,166.8 581.6,167.1 583.1,166.0 584.8,166.0 586.8,165.5 588.9,165.6 590.5,165.2 592.2,164.8 592.3,163.0 593.4,161.5 594.7,160.2 596.4,159.8 598.0,159.0 599.6,156.5 599.4,154.7 600.4,153.2 600.1,151.4 601.2,149.9 602.5,148.5 602.5,146.6 603.3,145.0 602.8,143.2 603.0,141.4 602.6,139.6 603.0,137.7 603.5,135.8 603.9,133.8 604.2,131.9 605.4,130.2 606.5,128.6 607.1,126.9 607.0,125.0 608.6,123.7 608.5,121.4 610.0,120.0 610.9,118.2 612.6,117.1 614.3,115.9 615.0,114.0 616.4,112.7 617.9,111.4 619.3,110.0 620.5,108.5 621.7,106.9 623.3,105.7 625.2,104.8 627.0,103.6 629.0,102.9 630.8,102.1 632.6,101.4 634.6,101.5"/>
<polygon points="504.4,131.0 506.8,130.0 507.0,135.0 505.5,138.5 504.5,136.0"/>
<polygon points="514.0,128.0 516.0,128.5 515.5,130.5 514.0,130.0"/>
<polygon points="518.5,97.5 521.5,97.0 522.0,99.0 519.0,100.0"/></g>
<g clip-path="url(#cn)"><g clip-path="url(#ln)" fill="none" stroke="#184a18" stroke-width="1.3" stroke-dasharray="1.6 2.4"><circle cx="212.5" cy="212.5" r="167.01"/><circle cx="212.5" cy="212.5" r="109.90"/><circle cx="212.5" cy="212.5" r="54.53"/><line x1="212.5" y1="212.5" x2="212.50" y2="379.51"/><line x1="212.5" y1="212.5" x2="296.01" y2="357.14"/><line x1="212.5" y1="212.5" x2="357.14" y2="296.01"/><line x1="212.5" y1="212.5" x2="379.51" y2="212.50"/><line x1="212.5" y1="212.5" x2="357.14" y2="128.99"/><line x1="212.5" y1="212.5" x2="296.01" y2="67.86"/><line x1="212.5" y1="212.5" x2="212.50" y2="45.49"/><line x1="212.5" y1="212.5" x2="128.99" y2="67.86"/><line x1="212.5" y1="212.5" x2="67.86" y2="128.99"/><line x1="212.5" y1="212.5" x2="45.49" y2="212.50"/><line x1="212.5" y1="212.5" x2="67.86" y2="296.01"/><line x1="212.5" y1="212.5" x2="128.99" y2="357.14"/></g></g>
<g clip-path="url(#cs)"><g clip-path="url(#ls)" fill="none" stroke="#184a18" stroke-width="1.3" stroke-dasharray="1.6 2.4"><circle cx="637.5" cy="212.5" r="167.01"/><circle cx="637.5" cy="212.5" r="109.90"/><circle cx="637.5" cy="212.5" r="54.53"/><line x1="637.5" y1="212.5" x2="637.50" y2="45.49"/><line x1="637.5" y1="212.5" x2="721.01" y2="67.86"/><line x1="637.5" y1="212.5" x2="782.14" y2="128.99"/><line x1="637.5" y1="212.5" x2="804.51" y2="212.50"/><line x1="637.5" y1="212.5" x2="782.14" y2="296.01"/><line x1="637.5" y1="212.5" x2="721.01" y2="357.14"/><line x1="637.5" y1="212.5" x2="637.50" y2="379.51"/><line x1="637.5" y1="212.5" x2="553.99" y2="357.14"/><line x1="637.5" y1="212.5" x2="492.86" y2="296.01"/><line x1="637.5" y1="212.5" x2="470.49" y2="212.50"/><line x1="637.5" y1="212.5" x2="492.86" y2="128.99"/><line x1="637.5" y1="212.5" x2="553.99" y2="67.86"/></g></g>
<g clip-path="url(#cn)" fill="#fff"><polygon points="121.0,66.0 125.3,70.0 128.8,72.5 132.4,74.0 135.0,71.0 136.0,62.0 121.0,62.0"/>
<polygon points="309.6,242.0 315.5,243.1 321.4,243.7 326.1,244.3 329.6,246.1 333.1,248.4 335.5,251.4 336.7,253.7 335.5,254.3 333.7,252.0 330.8,249.6 327.3,247.3 322.6,246.1 317.9,245.5 313.2,244.3 309.6,243.1"/>
<polygon points="268.0,334.0 271.0,338.0 270.0,346.0 268.0,354.0 266.0,362.0 263.0,370.0 260.0,376.0 258.0,372.0 261.0,362.0 264.0,350.0 265.0,342.0 266.0,336.0"/>
<polygon points="253.0,64.0 256.0,59.0 260.0,57.0 266.0,58.5 272.0,58.0 277.0,59.0 278.0,61.0 272.0,62.0 266.0,63.5 260.0,63.5 256.0,65.5"/>
<polygon points="94.0,210.8 100.0,210.3 106.0,211.0 110.0,212.0 108.0,214.0 102.0,214.2 96.0,213.8 93.0,212.8"/>
<polygon points="89.0,197.5 93.0,198.5 97.0,200.5 98.5,203.0 96.0,203.5 92.0,201.5 89.0,200.0"/>
<polygon points="101.0,194.5 106.0,194.0 111.0,195.0 111.0,199.0 106.0,200.5 101.0,199.0"/>
<polygon points="87.5,216.5 93.0,216.0 97.5,217.5 95.0,219.5 89.0,219.5"/></g>
<g clip-path="url(#cs)" fill="#fff"></g>
<rect x="42.5" y="42.5" width="340" height="340" fill="none" stroke="#666" stroke-width="1.2"/>
<rect x="467.5" y="42.5" width="340" height="340" fill="none" stroke="#666" stroke-width="1.2"/>
<g font-family="DejaVu Sans, Liberation Sans, sans-serif" font-size="16" fill="#000" stroke="#000" stroke-width="0.7"><text x="223.2" y="212.6" text-anchor="end" stroke-width="1.3">90</text><text x="223.2" y="268.7" text-anchor="end">80</text><text x="223.2" y="323.8" text-anchor="end">70</text><text x="223.2" y="379.7" text-anchor="end">60</text><text x="171.8" y="140.3" text-anchor="end">-150</text><text x="141.3" y="170.8" text-anchor="end">-120</text><text x="130.1" y="212.5" text-anchor="end">-90</text><text x="141.3" y="254.2" text-anchor="end">-60</text><text x="171.8" y="284.7" text-anchor="end">-30</text><text x="213.5" y="295.9" text-anchor="end">0</text><text x="255.2" y="284.7" text-anchor="end">30</text><text x="285.7" y="254.2" text-anchor="end">60</text><text x="296.9" y="212.5" text-anchor="end">90</text><text x="285.7" y="170.8" text-anchor="end">120</text><text x="255.2" y="140.3" text-anchor="end">150</text><text x="213.5" y="129.1" text-anchor="end">180</text></g><g font-family="DejaVu Sans, Liberation Sans, sans-serif" font-size="16" fill="#1e1e1e" stroke="#1e1e1e" stroke-width="0.5"><text x="650.9" y="213.3" text-anchor="end">-90</text><text x="650.9" y="156.8" text-anchor="end">-80</text><text x="650.9" y="101.5" text-anchor="end">-70</text><text x="650.9" y="45.6" text-anchor="end">-60</text><text x="596.8" y="284.7" text-anchor="end">-150</text><text x="566.3" y="254.2" text-anchor="end">-120</text><text x="555.1" y="212.5" text-anchor="end">-90</text><text x="566.3" y="170.8" text-anchor="end">-60</text><text x="596.8" y="140.3" text-anchor="end">-30</text><text x="638.5" y="129.1" text-anchor="end">0</text><text x="680.2" y="140.3" text-anchor="end">30</text><text x="710.7" y="170.8" text-anchor="end">60</text><text x="721.9" y="212.5" text-anchor="end">90</text><text x="710.7" y="254.2" text-anchor="end">120</text><text x="680.2" y="284.7" text-anchor="end">150</text><text x="638.5" y="295.9" text-anchor="end">180</text></g>
<g><line x1="150" y1="111.8" x2="195.3" y2="135.2" stroke="#ff0000" stroke-width="2"/><line x1="199" y1="93.4" x2="230" y2="133.5" stroke="#ff0000" stroke-width="2"/><line x1="260.9" y1="117" x2="261.5" y2="147.2" stroke="#ff0000" stroke-width="2"/><line x1="297.6" y1="145.7" x2="285.2" y2="173.6" stroke="#ff0000" stroke-width="2"/><line x1="318.3" y1="187.7" x2="296.2" y2="207.1" stroke="#ff0000" stroke-width="2"/><line x1="290.8" y1="243" x2="320.9" y2="234.7" stroke="#ff0000" stroke-width="2"/><line x1="255" y1="275.6" x2="301.1" y2="279.3" stroke="#ff0000" stroke-width="2"/><line x1="221.7" y1="285.3" x2="265.3" y2="311.3" stroke="#ff0000" stroke-width="2"/><line x1="189.6" y1="283.8" x2="217.9" y2="325.8" stroke="#ff0000" stroke-width="2"/><line x1="161.2" y1="268" x2="169.2" y2="318.3" stroke="#ff0000" stroke-width="2"/><line x1="140" y1="245" x2="127.7" y2="290" stroke="#ff0000" stroke-width="2"/><line x1="135" y1="209" x2="103" y2="244" stroke="#ff0000" stroke-width="2"/><line x1="97" y1="197" x2="144" y2="176" stroke="#ff0000" stroke-width="2"/><line x1="114" y1="149" x2="165" y2="149.6" stroke="#ff0000" stroke-width="2"/><line x1="626" y1="93.5" x2="604.1" y2="138.6" stroke="#ff0000" stroke-width="2"/><line x1="677.4" y1="99.8" x2="638" y2="132.2" stroke="#ff0000" stroke-width="2"/><line x1="671.9" y1="140.8" x2="720.5" y2="128" stroke="#ff0000" stroke-width="2"/><line x1="697.3" y1="161.5" x2="745" y2="171.9" stroke="#ff0000" stroke-width="2"/><line x1="712" y1="192.2" x2="754.3" y2="222.3" stroke="#ff0000" stroke-width="2"/><line x1="712.9" y1="224.9" x2="734.5" y2="265" stroke="#ff0000" stroke-width="2"/><line x1="699.7" y1="255" x2="703.2" y2="306.1" stroke="#ff0000" stroke-width="2"/><line x1="676.7" y1="277" x2="656.5" y2="324.1" stroke="#ff0000" stroke-width="2"/><line x1="644.9" y1="286.4" x2="607.4" y2="320.8" stroke="#ff0000" stroke-width="2"/><line x1="565.4" y1="297.1" x2="613.5" y2="281.5" stroke="#ff0000" stroke-width="2"/><line x1="537" y1="257.1" x2="566.7" y2="260" stroke="#ff0000" stroke-width="2"/><line x1="528.5" y1="211" x2="554.8" y2="225.1" stroke="#ff0000" stroke-width="2"/><line x1="540.5" y1="165.9" x2="557.7" y2="189.3" stroke="#ff0000" stroke-width="2"/><line x1="569.5" y1="129.2" x2="576.2" y2="159.2" stroke="#ff0000" stroke-width="2"/><line x1="174.6" y1="99.5" x2="171.5" y2="126" stroke="#0000ff" stroke-width="1.9"/><line x1="181.1" y1="111.8" x2="175.9" y2="142.9" stroke="#0000ff" stroke-width="1.9"/><circle cx="170.5" cy="124.5" r="6.0" fill="#ff0000"/><circle cx="171.4" cy="124.5" r="6.0" fill="#0000ff"/><circle cx="179.1" cy="122.8" r="6.0" fill="#0000ff"/><line x1="227.2" y1="93.4" x2="209.7" y2="132.4" stroke="#0000ff" stroke-width="1.9"/><line x1="228.3" y1="107.5" x2="221" y2="116" stroke="#0000ff" stroke-width="1.9"/><circle cx="211" cy="112.5" r="6.0" fill="#ff0000"/><circle cx="214.8" cy="112.6" r="6.0" fill="#0000ff"/><circle cx="221.6" cy="116.6" r="6.0" fill="#0000ff"/><line x1="245.6" y1="138.2" x2="272.5" y2="124.1" stroke="#0000ff" stroke-width="1.9"/><circle cx="260.9" cy="129.8" r="6.0" fill="#0000ff"/><line x1="275" y1="158" x2="305.9" y2="158" stroke="#0000ff" stroke-width="1.9"/><circle cx="291.8" cy="158" r="6.0" fill="#0000ff"/><line x1="293.6" y1="191.6" x2="321.3" y2="203.3" stroke="#0000ff" stroke-width="1.9"/><circle cx="307.3" cy="197.4" r="6.0" fill="#0000ff"/><line x1="295.5" y1="229.4" x2="315.3" y2="251.6" stroke="#0000ff" stroke-width="1.9"/><circle cx="304" cy="239.2" r="6.0" fill="#0000ff"/><line x1="272" y1="254.8" x2="275.7" y2="276.5" stroke="#0000ff" stroke-width="1.9"/><line x1="280.4" y1="264.3" x2="288.9" y2="292.5" stroke="#0000ff" stroke-width="1.9"/><circle cx="271" cy="281.2" r="6.0" fill="#ff0000"/><circle cx="275.7" cy="277.4" r="6.0" fill="#0000ff"/><circle cx="284.2" cy="276.1" r="6.0" fill="#0000ff"/><line x1="247.7" y1="276.9" x2="246.2" y2="318.9" stroke="#0000ff" stroke-width="1.9"/><line x1="250.7" y1="289.9" x2="250" y2="301" stroke="#0000ff" stroke-width="1.9"/><circle cx="237.8" cy="301.3" r="6.0" fill="#ff0000"/><circle cx="241.6" cy="300.6" r="6.0" fill="#0000ff"/><circle cx="250" cy="301.3" r="6.0" fill="#0000ff"/><line x1="216.3" y1="286.8" x2="197.2" y2="323.5" stroke="#0000ff" stroke-width="1.9"/><line x1="213.8" y1="300" x2="211" y2="306" stroke="#0000ff" stroke-width="1.9"/><circle cx="197.2" cy="306.7" r="6.0" fill="#ff0000"/><circle cx="199.5" cy="305.9" r="6.0" fill="#0000ff"/><circle cx="207.9" cy="307.5" r="6.0" fill="#0000ff"/><line x1="182.4" y1="281.7" x2="160.4" y2="292.3" stroke="#0000ff" stroke-width="1.9"/><line x1="149.8" y1="307.7" x2="167.4" y2="297.1" stroke="#0000ff" stroke-width="1.9"/><circle cx="160.4" cy="292.3" r="6.0" fill="#0000ff"/><circle cx="167.4" cy="297.1" r="6.0" fill="#0000ff"/><line x1="131" y1="262" x2="155" y2="262" stroke="#0000ff" stroke-width="1.9"/><line x1="113.5" y1="271.5" x2="136" y2="270" stroke="#0000ff" stroke-width="1.9"/><circle cx="131.2" cy="261.8" r="6.0" fill="#0000ff"/><circle cx="136.1" cy="270.1" r="6.0" fill="#0000ff"/><line x1="96" y1="223" x2="138" y2="233" stroke="#0000ff" stroke-width="1.9"/><circle cx="117" cy="222" r="6.0" fill="#0000ff"/><circle cx="119" cy="230" r="6.0" fill="#0000ff"/><line x1="103" y1="172" x2="136" y2="198" stroke="#0000ff" stroke-width="1.9"/><circle cx="122" cy="180" r="6.0" fill="#0000ff"/><circle cx="118.6" cy="188" r="6.0" fill="#0000ff"/><line x1="130.5" y1="127.6" x2="149.3" y2="165.2" stroke="#0000ff" stroke-width="1.9"/><circle cx="144.5" cy="144.4" r="6.0" fill="#0000ff"/><circle cx="138.3" cy="150.9" r="6.0" fill="#0000ff"/><line x1="597.8" y1="99.1" x2="622.4" y2="133" stroke="#0000ff" stroke-width="1.9"/><line x1="599.9" y1="113.2" x2="606" y2="118" stroke="#0000ff" stroke-width="1.9"/><circle cx="618.2" cy="115.3" r="6.0" fill="#ff0000"/><circle cx="609" cy="121" r="6.0" fill="#0000ff"/><circle cx="614" cy="115.3" r="6.0" fill="#0000ff"/><line x1="650" y1="93.5" x2="657.7" y2="135" stroke="#0000ff" stroke-width="1.9"/><line x1="646.4" y1="108.3" x2="649.2" y2="117" stroke="#0000ff" stroke-width="1.9"/><circle cx="662" cy="117.4" r="6.0" fill="#ff0000"/><circle cx="649.2" cy="117.4" r="6.0" fill="#0000ff"/><circle cx="657" cy="116.7" r="6.0" fill="#0000ff"/><line x1="699.2" y1="111.6" x2="696.4" y2="136" stroke="#0000ff" stroke-width="1.9"/><line x1="689.8" y1="122.9" x2="688.8" y2="152.1" stroke="#0000ff" stroke-width="1.9"/><circle cx="689.8" cy="131.7" r="6.0" fill="#0000ff"/><circle cx="697.3" cy="136.6" r="6.0" fill="#0000ff"/><line x1="735.9" y1="148.7" x2="709.5" y2="181.3" stroke="#0000ff" stroke-width="1.9"/><circle cx="719.3" cy="161.5" r="6.0" fill="#0000ff"/><circle cx="723.7" cy="169" r="6.0" fill="#0000ff"/><line x1="753.4" y1="196.7" x2="713.8" y2="215.5" stroke="#0000ff" stroke-width="1.9"/><circle cx="732.6" cy="201.6" r="6.0" fill="#0000ff"/><circle cx="733.6" cy="209.5" r="6.0" fill="#0000ff"/><line x1="705.4" y1="248" x2="728" y2="245" stroke="#0000ff" stroke-width="1.9"/><line x1="725" y1="250" x2="747.7" y2="248" stroke="#0000ff" stroke-width="1.9"/><circle cx="728" cy="243" r="6.0" fill="#0000ff"/><circle cx="725.1" cy="250.9" r="6.0" fill="#0000ff"/><line x1="682" y1="272.6" x2="705.8" y2="277.9" stroke="#0000ff" stroke-width="1.9"/><line x1="700" y1="285" x2="720.8" y2="291.2" stroke="#0000ff" stroke-width="1.9"/><circle cx="705.8" cy="277.9" r="6.0" fill="#0000ff"/><circle cx="700" cy="285" r="6.0" fill="#0000ff"/><line x1="650.3" y1="285.9" x2="677.6" y2="318.1" stroke="#0000ff" stroke-width="1.9"/><circle cx="671.1" cy="301.2" r="6.0" fill="#0000ff"/><circle cx="663" cy="304.7" r="6.0" fill="#0000ff"/><line x1="617.3" y1="283.3" x2="628" y2="323.9" stroke="#0000ff" stroke-width="1.9"/><line x1="616.6" y1="297.1" x2="621.2" y2="306.6" stroke="#0000ff" stroke-width="1.9"/><circle cx="631.9" cy="305" r="6.0" fill="#ff0000"/><circle cx="621.2" cy="306.6" r="6.0" fill="#0000ff"/><circle cx="628.8" cy="305.5" r="6.0" fill="#0000ff"/><line x1="589" y1="267.3" x2="589.8" y2="291" stroke="#0000ff" stroke-width="1.9"/><line x1="582.2" y1="290.2" x2="581.4" y2="307.8" stroke="#0000ff" stroke-width="1.9"/><circle cx="592.9" cy="292.5" r="6.0" fill="#ff0000"/><circle cx="582.2" cy="290.2" r="6.0" fill="#0000ff"/><circle cx="589.8" cy="291" r="6.0" fill="#0000ff"/><line x1="560.5" y1="247.7" x2="546.4" y2="274.1" stroke="#0000ff" stroke-width="1.9"/><circle cx="553.9" cy="259" r="6.0" fill="#0000ff"/><line x1="529.4" y1="228.5" x2="553.9" y2="211" stroke="#0000ff" stroke-width="1.9"/><circle cx="542.2" cy="218.5" r="6.0" fill="#0000ff"/><line x1="534.7" y1="180.1" x2="563.9" y2="174.8" stroke="#0000ff" stroke-width="1.9"/><circle cx="548.5" cy="176.9" r="6.0" fill="#0000ff"/><line x1="559.5" y1="138.6" x2="590" y2="147.4" stroke="#0000ff" stroke-width="1.9"/><circle cx="572.3" cy="142.6" r="6.0" fill="#0000ff"/></g>
<g font-family="Liberation Sans, Arial, sans-serif">
<text x="212.5" y="31" font-size="22" fill="#626262" stroke="#626262" stroke-width="0.5" text-anchor="middle" letter-spacing="-0.4">Northern Hemisphere</text>
<text x="637.5" y="31" font-size="22" fill="#626262" stroke="#626262" stroke-width="0.5" text-anchor="middle" letter-spacing="-0.4">Southern Hemisphere</text>
<text x="28" y="414" font-size="18" font-weight="bold" fill="#f00" transform="translate(28 0) scale(0.92 1) translate(-28 0)">Red line: NPP</text>
<text x="256" y="414" font-size="18" font-weight="bold" fill="#00f" transform="translate(256 0) scale(0.908 1) translate(-256 0)">Blue line: METOP-C</text>
<text x="453" y="414" font-size="18" font-weight="bold" fill="#000" transform="translate(453 0) scale(0.92 1) translate(-453 0)">TLE Epoch: 2025/8/20</text>
</g>
</svg>
</body></html>
